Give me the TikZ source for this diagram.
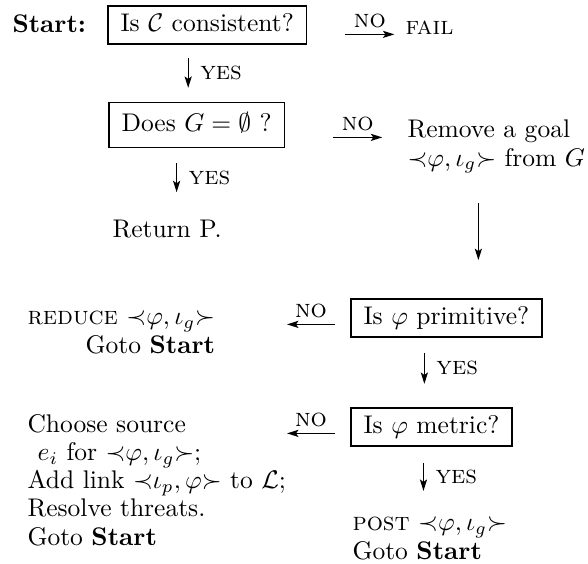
\documentclass[tikz,border=0pt]{standalone}
\usepackage{amsmath,amssymb}
\usepackage{tikz}
\usetikzlibrary{arrows.meta,positioning}
\newcommand{\goal}[2]{\mathopen{\prec}#1,#2\mathclose{\succ}}
\tikzset{
  testbox/.style={draw, line width=0.6pt, inner xsep=5pt, inner ysep=3pt,
                  text height=7pt, text depth=2pt, anchor=west},
  outtext/.style={inner sep=0pt, anchor=base west, font=\fontsize{10}{11}\selectfont},
  flow/.style={-{Stealth[length=4.5pt,width=2.8pt,inset=1pt]}, line width=0.5pt},
  nolabel/.style={above=2.5pt, inner sep=0pt},
  yeslabel/.style={right=4.5pt, inner sep=0pt},
}
\begin{document}
\begin{tikzpicture}[x=0.392pt, y=-0.392pt]
 \useasboundingbox (0,0) rectangle (588,563);
 % tests
 \node[outtext] (start) at (12,33) {\textbf{Start:}};
 \node[testbox] (consist) at (107,25) {Is $\mathcal{C}$ consistent?};
 \node[testbox, minimum height=17.6pt] (empty) at (108,125) {Does $G=\emptyset$ ?};
 \node[testbox] (prim) at (350,318) {Is $\varphi$ primitive?};
 \node[testbox] (metric) at (350,427) {Is $\varphi$ metric?};
 % outcomes (multi-line ones sit on their last line)
 \node[outtext] (fail) at (405,35) {\textsc{fail}};
 \node[outtext, align=left] (remove) at (407,166) {Remove a goal\\$\goal{\varphi}{\iota_g}$ from $G$};
 \node[outtext] (return) at (112,237) {Return P.};
 \node[outtext, align=right] (reduce) at (27,353) {\textsc{reduce} $\goal{\varphi}{\iota_g}$\\Goto \textbf{Start}};
 \node[outtext, align=left] (choose) at (27,545) {Choose source\\
   \hspace*{4pt}$e_i$ for $\goal{\varphi}{\iota_g}$;\\
   Add link $\goal{\iota_p}{\varphi}$ to $\mathcal{L}$;\\
   Resolve threats.\\
   Goto \textbf{Start}};
 \node[outtext, align=left] (post) at (352,559) {\textsc{post} $\goal{\varphi}{\iota_g}$\\Goto \textbf{Start}};
 % NO branches
 \draw[flow] (consist.base east) ++(38,3) -- node[nolabel] {\textsc{no}} ++(49,0);
 \draw[flow] (empty.base east) ++(48,6) -- node[nolabel] {\textsc{no}} ++(49,0);
 \draw[flow] (prim.base west) ++(-15,0) -- node[nolabel] {\textsc{no}} ++(-48,0);
 \draw[flow] (metric.base west) ++(-15,0) -- node[nolabel] {\textsc{no}} ++(-48,0);
 % YES branches
 \draw[flow] (consist.south) ++(-19,13) -- node[yeslabel] {\textsc{yes}} ++(0,30);
 \draw[flow] (empty.south) ++(-20,15) -- node[yeslabel] {\textsc{yes}} ++(0,29);
 \draw[flow] (prim.south) ++(-22,15) -- node[yeslabel] {\textsc{yes}} ++(0,31);
 \draw[flow] (metric.south) ++(-8,16) -- node[yeslabel] {\textsc{yes}} ++(0,28);
 % goal taken from G
 \draw[flow] (prim.north) ++(32,-95) -- ++(0,57);
\end{tikzpicture}
\end{document}
